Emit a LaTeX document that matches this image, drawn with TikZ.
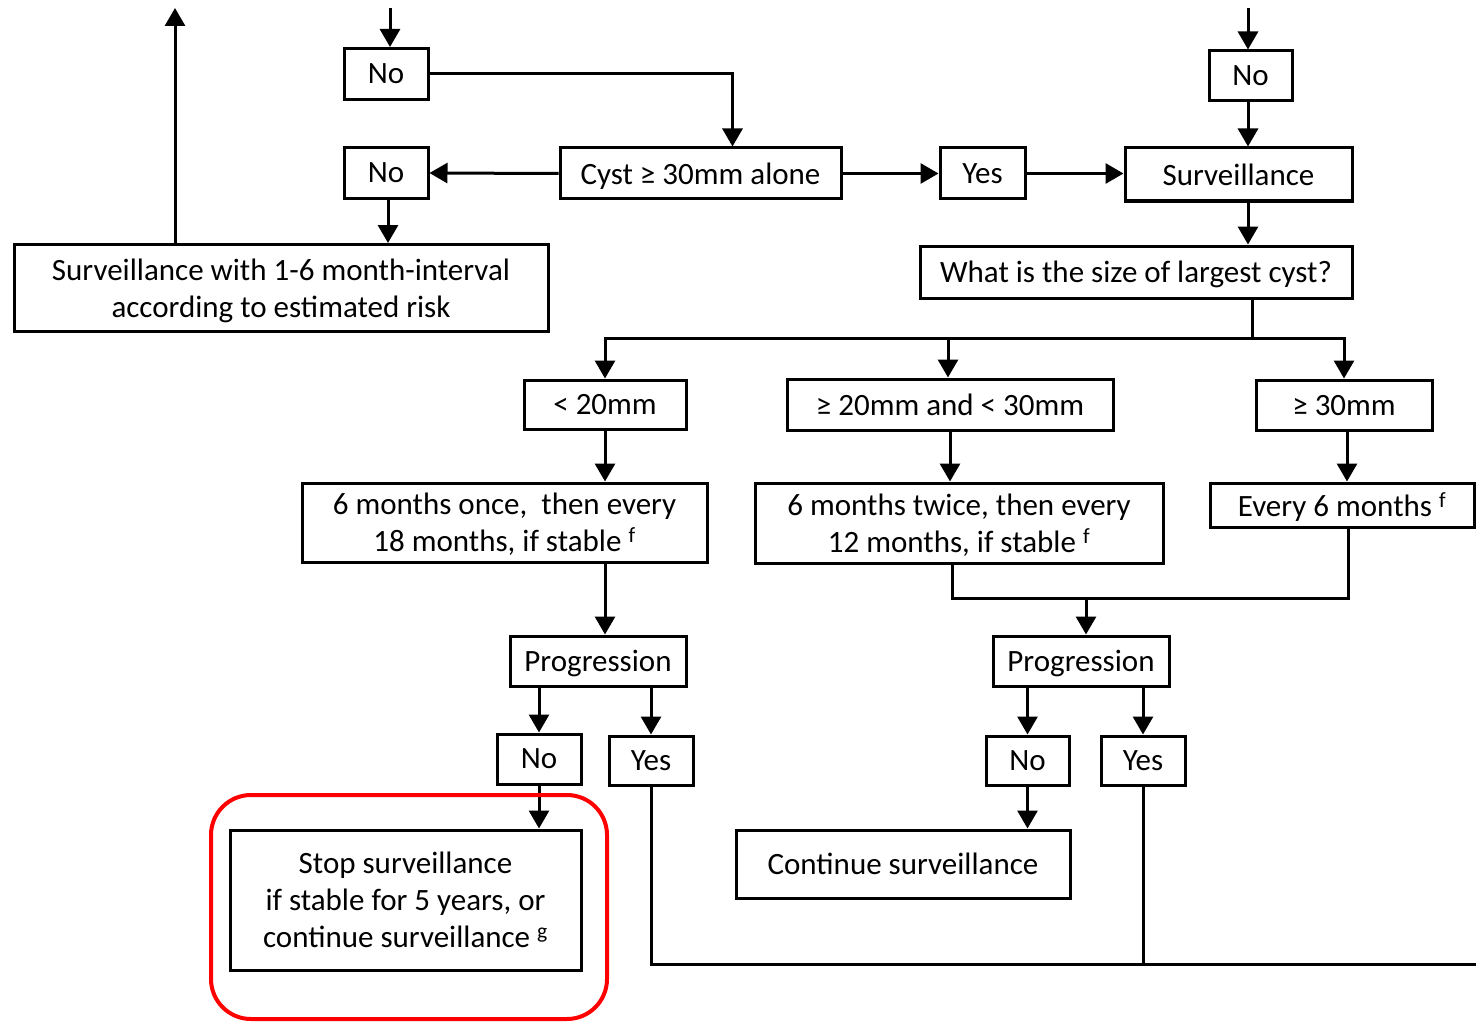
\documentclass[tikz,border=0pt]{standalone}
\usepackage{fontspec}
\setmainfont{Carlito}
\usetikzlibrary{arrows.meta}
\begin{document}
\begin{tikzpicture}[x=1pt, y=-1pt,
  bx/.style={draw, line width=3pt, inner sep=0pt, align=center, text depth=0pt,
    font=\fontsize{31}{37}\selectfont},
  wire/.style={line width=3pt},
  arr/.style={wire, -{Triangle[length=18pt, width=20pt]}}]
\useasboundingbox (0,0) rectangle (1476,1022);

% boxes
\node[bx, minimum width=84pt, minimum height=51pt] (no1) at (386,74) {No};
\node[bx, minimum width=84pt, minimum height=51pt] (no2) at (386,173) {No};
\node[bx, minimum width=534pt, minimum height=87pt] (surv16) at (281,288)
  {Surveillance with 1-6 month-interval\\according to estimated risk};
\node[bx, minimum width=281pt, minimum height=51pt] (cyst) at (700.5,173.5) {Cyst ≥ 30mm alone};
\node[bx, minimum width=85pt, minimum height=51pt] (yes1) at (982.5,173.5) {Yes};
\node[bx, minimum width=227pt, minimum height=53pt] (surv) at (1238.5,174.5) {Surveillance};
\node[bx, minimum width=83pt, minimum height=50pt] (no3) at (1250.5,76) {No};
\node[bx, minimum width=432pt, minimum height=52pt] (what) at (1136,272) {What is the size of largest cyst?};
\node[bx, minimum width=162pt, minimum height=49pt] (lt20) at (605,404.5) {< 20mm};
\node[bx, minimum width=326pt, minimum height=51pt] (mid20) at (950,404.5) {≥ 20mm and < 30mm};
\node[bx, minimum width=176pt, minimum height=50pt] (ge30) at (1344,405) {≥ 30mm};
\node[bx, minimum width=405pt, minimum height=79pt] (once) at (504.5,522.5)
  {6 months once,\ \ then every\\18 months, if stable \textsuperscript{f}};
\node[bx, minimum width=408pt, minimum height=80pt] (twice) at (959,523)
  {6 months twice, then every\\12 months, if stable \textsuperscript{f}};
\node[bx, minimum width=264pt, minimum height=44pt] (every) at (1342,505) {Every 6 months \textsuperscript{f}};
\node[bx, minimum width=176pt, minimum height=50pt] (progL) at (598,661) {Progression};
\node[bx, minimum width=176pt, minimum height=50pt] (progR) at (1081,661) {Progression};
\node[bx, minimum width=84pt, minimum height=50pt] (noL) at (539,759) {No};
\node[bx, minimum width=84pt, minimum height=49pt] (yesL) at (651,760.5) {Yes};
\node[bx, minimum width=83pt, minimum height=49pt] (noR) at (1027.5,760.5) {No};
\node[bx, minimum width=84pt, minimum height=49pt] (yesR) at (1143,760.5) {Yes};
\node[bx, minimum width=351pt, minimum height=140pt] (stop) at (405.5,900)
  {Stop surveillance\\if stable for 5 years, or\\continue surveillance \textsuperscript{g}};
\node[bx, minimum width=334pt, minimum height=68pt] (cont) at (903,864) {Continue surveillance};

% free ends of connectors
\coordinate (inL) at (390,8);
\coordinate (inR) at (1248,8);
\coordinate (outUp) at (175,8);
\coordinate (split) at (1252,338);
\coordinate (join) at (1086,598);
\coordinate (outR) at (1476,964);

% upper part
\draw[arr] (inL) -- (inL |- no1.north);
\draw[arr] (no1.east) -| ([xshift=32pt]cyst.north);
\draw[arr] (cyst.west) -- (no2.east);
\draw[arr] ([xshift=2pt]no2.south) -- ([xshift=2pt]no2.south |- surv16.north);
\draw[arr] (surv16.north -| outUp) -- (outUp);
\draw[arr] (cyst.east) -- (yes1.west);
\draw[arr] (yes1.east) -- (yes1.east -| surv.west);
\draw[arr] (inR) -- (inR |- no3.north);
\draw[arr] (inR |- no3.south) -- (inR |- surv.north);
\draw[arr] (inR |- surv.south) -- (inR |- what.north);

% size branches
\draw[wire] (split |- what.south) -- (split);
\draw[wire] ([xshift=-1.5pt]split -| lt20.north) -- ([xshift=1.5pt]split -| ge30.north);
\draw[arr] (split -| lt20.north) -- (lt20.north);
\draw[arr] ([xshift=-2pt]split -| mid20.north) -- ([xshift=-2pt]mid20.north);
\draw[arr] (split -| ge30.north) -- (ge30.north);
\draw[arr] (lt20.south) -- (lt20.south |- once.north);
\draw[arr] (mid20.south) -- (mid20.south |- twice.north);
\draw[arr] ([xshift=3pt]ge30.south) -- ([xshift=3pt]ge30.south |- every.north);

% progression
\draw[arr] (lt20.south |- once.south) -- (lt20.south |- progL.north);
\draw[wire] ([xshift=-7pt]twice.south) |- ([xshift=6pt]every.south |- join) -- ([xshift=6pt]every.south);
\draw[arr] (join) -- (join |- progR.north);
\draw[arr] (noL.north |- progL.south) -- (noL.north);
\draw[arr] (yesL.north |- progL.south) -- (yesL.north);
\draw[arr] (noR.north |- progR.south) -- (noR.north);
\draw[arr] (yesR.north |- progR.south) -- (yesR.north);
\draw[arr] (noL.south) -- (noL.south |- stop.north);
\draw[arr] (noR.south) -- (noR.south |- cont.north);
\draw[wire] (yesL.south) |- (outR);
\draw[wire] (yesR.south) -- (yesR.south |- outR);

% highlight round the stop box
\draw[red, line width=4pt, rounded corners=40pt] (211,795) rectangle (607,1019);
\end{tikzpicture}
\end{document}
